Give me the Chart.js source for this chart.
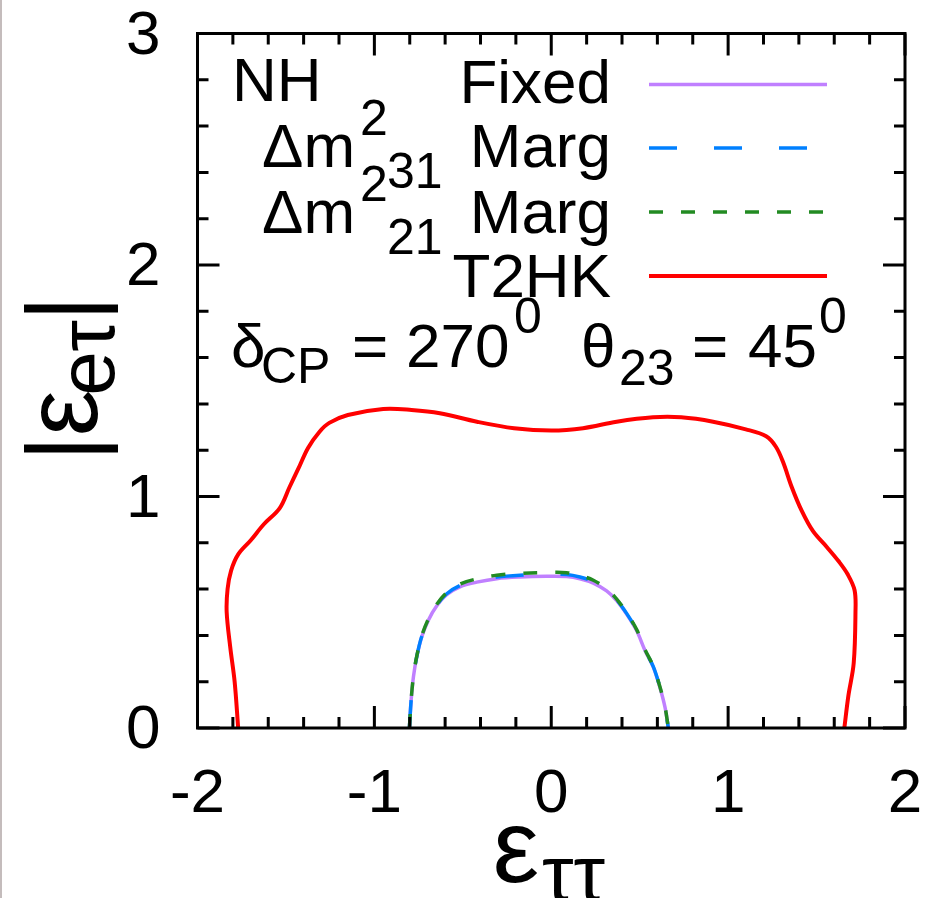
<!DOCTYPE html>
<html>
<head>
<meta charset="utf-8">
<script src="https://cdn.jsdelivr.net/npm/chart.js@4.4.1/dist/chart.umd.min.js"></script>
<style>
  html, body { margin: 0; padding: 0; background: #fff; }
  canvas { display: block; }
</style>
</head>
<body>
<canvas id="c" width="933" height="898"></canvas>
<script>
// axis ticks
const xTicks = [-2, -1, 0, 1, 2]
const yTicks = [0, 1, 2, 3]
const minorStep = 0.2

// T2HK contour (red)
const t2hkX = [-1.77, -1.79, -1.815, -1.835, -1.83, -1.81, -1.77, -1.70, -1.625, -1.535, -1.48, -1.43, -1.375, -1.31, -1.255, -1.15, -0.95, -0.79, -0.63, -0.42, -0.21, 0, 0.18, 0.37, 0.575, 0.735, 0.915, 1.10, 1.215, 1.27, 1.31, 1.36, 1.415, 1.48, 1.56, 1.625, 1.675, 1.715, 1.72, 1.71, 1.68, 1.657]
const t2hkY = [0, 0.2, 0.35, 0.5, 0.6, 0.68, 0.75, 0.81, 0.88, 0.95, 1.04, 1.12, 1.21, 1.28, 1.318, 1.352, 1.378, 1.374, 1.36, 1.323, 1.295, 1.285, 1.295, 1.323, 1.342, 1.342, 1.323, 1.29, 1.26, 1.215, 1.15, 1.04, 0.94, 0.85, 0.78, 0.72, 0.665, 0.595, 0.5, 0.28, 0.14, 0]

// inner contours
const innerX = [-0.802, -0.792, -0.779, -0.760, -0.732, -0.694, -0.647, -0.591, -0.516, -0.421, -0.308, -0.177, -0.026, 0.087, 0.162, 0.238, 0.313, 0.370, 0.426, 0.483, 0.530, 0.577, 0.614, 0.643, 0.662]
const fixedY = [0, 0.121, 0.222, 0.308, 0.394, 0.467, 0.528, 0.576, 0.610, 0.630, 0.645, 0.652, 0.655, 0.654, 0.645, 0.626, 0.592, 0.550, 0.492, 0.420, 0.335, 0.263, 0.176, 0.090, 0]
const marg31Y = [0, 0.121, 0.222, 0.310, 0.396, 0.469, 0.531, 0.580, 0.616, 0.637, 0.652, 0.660, 0.664, 0.663, 0.652, 0.632, 0.597, 0.554, 0.495, 0.423, 0.337, 0.265, 0.178, 0.091, 0]
const marg21Y = [0, 0.122, 0.224, 0.312, 0.398, 0.472, 0.535, 0.585, 0.622, 0.644, 0.660, 0.668, 0.672, 0.671, 0.659, 0.638, 0.601, 0.557, 0.498, 0.425, 0.339, 0.266, 0.179, 0.092, 0]

const FONT = '"Liberation Sans", Arial, sans-serif'
const pts = (xs, ys) => xs.map((x, i) => ({x: x, y: ys[i]}))

const series = [
  {label: 'T2HK', x: t2hkX, y: t2hkY, color: '#ff0000', width: 4, dash: [], order: 4},
  {label: 'Fixed', x: innerX, y: fixedY, color: '#c080ff', width: 3.5, dash: [], order: 3},
  {label: 'Δm231 Marg', x: innerX, y: marg31Y, color: '#0080ff', width: 3.5, dash: [28, 37], order: 2},
  {label: 'Δm221 Marg', x: innerX, y: marg21Y, color: '#228b22', width: 3.5, dash: [14, 18], order: 1}
]

function txt(ctx, s, x, y, size, align) {
  ctx.font = size + 'px ' + FONT
  ctx.textAlign = align || 'left'
  ctx.fillText(s, x, y)
}

const frame = {
  id: 'frame',
  beforeDraw(chart) {
    const ctx = chart.ctx
    ctx.save()
    ctx.fillStyle = '#fff'
    ctx.fillRect(0, 0, chart.width, chart.height)
    ctx.fillStyle = '#c4bcbc'
    ctx.fillRect(0, 0, 2, chart.height)
    ctx.restore()
  },
  afterDatasetsDraw(chart) {
    const ctx = chart.ctx
    const {left, right, top, bottom} = chart.chartArea
    const xs = chart.scales.x, ys = chart.scales.y
    ctx.save()
    ctx.strokeStyle = '#000'
    ctx.lineWidth = 3
    ctx.lineCap = 'butt'

    const nx = Math.round((xs.max - xs.min) / minorStep)
    for (let i = 0; i <= nx; i++) {
      const v = xs.min + i * minorStep
      const major = Math.abs(v - Math.round(v)) < 1e-6
      const len = major ? 22 : 11
      const px = xs.getPixelForValue(v)
      ctx.beginPath()
      ctx.moveTo(px, bottom); ctx.lineTo(px, bottom - len)
      ctx.moveTo(px, top); ctx.lineTo(px, top + len)
      ctx.stroke()
    }
    const ny = Math.round((ys.max - ys.min) / minorStep)
    for (let i = 0; i <= ny; i++) {
      const v = ys.min + i * minorStep
      const major = Math.abs(v - Math.round(v)) < 1e-6
      const len = major ? 22 : 11
      const py = ys.getPixelForValue(v)
      ctx.beginPath()
      ctx.moveTo(left, py); ctx.lineTo(left + len, py)
      ctx.moveTo(right, py); ctx.lineTo(right - len, py)
      ctx.stroke()
    }
    ctx.strokeRect(left, top, right - left, bottom - top)

    // tick labels
    ctx.fillStyle = '#000'
    ctx.textBaseline = 'alphabetic'
    xTicks.forEach(v => txt(ctx, String(v), xs.getPixelForValue(v), bottom + 84, 62, 'center'))
    yTicks.forEach(v => txt(ctx, String(v), left - 37, ys.getPixelForValue(v) + 20, 62, 'right'))

    // axis titles
    txt(ctx, 'ε', 516, 882, 104, 'center')
    txt(ctx, 'ττ', 542, 901, 80, 'left')

    ctx.save()
    ctx.translate(97, 452)
    ctx.rotate(-Math.PI / 2)
    txt(ctx, '|', 3.5, 0, 100, 'center')
    txt(ctx, 'ε', 39, 0, 104, 'center')
    txt(ctx, 'e', 78.5, 17, 80, 'center')
    txt(ctx, 'τ', 116, 17, 80, 'center')
    txt(ctx, '|', 143.5, 0, 100, 'center')
    ctx.restore()

    // key
    txt(ctx, 'NH', 232, 101, 62)
    txt(ctx, 'Fixed', 611, 103, 62, 'right')
    txt(ctx, 'Marg', 611, 167, 62, 'right')
    txt(ctx, 'Marg', 611, 233, 62, 'right')
    txt(ctx, 'T2HK', 611, 297, 62, 'right')
    ;[[167, '31'], [233, '21']].forEach(([b, sub]) => {
      txt(ctx, 'Δm', 262, b, 62)
      txt(ctx, '2', 360, b - 32, 50)
      txt(ctx, sub, 387, b + 21, 50)
    })
    const keyY = [276, 84.5, 148, 212]
    series.forEach((s, i) => {
      ctx.beginPath()
      ctx.strokeStyle = s.color
      ctx.lineWidth = s.width
      ctx.setLineDash(s.dash)
      ctx.moveTo(649, keyY[i]); ctx.lineTo(827, keyY[i])
      ctx.stroke()
    })
    ctx.setLineDash([])

    // parameters line
    txt(ctx, 'δ', 231, 367, 62)
    txt(ctx, 'CP', 261, 383, 50)
    txt(ctx, '=', 352, 367, 62)
    txt(ctx, '270', 406, 367, 62)
    txt(ctx, '0', 514, 333, 50)
    txt(ctx, 'θ', 581, 367, 62)
    txt(ctx, '23', 619, 385, 50)
    txt(ctx, '=', 692, 367, 62)
    txt(ctx, '45', 748, 367, 62)
    txt(ctx, '0', 819, 333, 50)
    ctx.restore()
  }
}

new Chart(document.getElementById('c'), {
  type: 'scatter',
  data: {
    datasets: series.map(s => ({
      label: s.label,
      data: pts(s.x, s.y),
      showLine: true,
      borderColor: s.color,
      borderWidth: s.width,
      borderDash: s.dash,
      pointRadius: 0,
      tension: 0.35,
      fill: false,
      order: s.order
    }))
  },
  options: {
    responsive: false,
    animation: false,
    events: [],
    layout: {padding: {left: 197.5, top: 33.5, right: 28, bottom: 170}},
    scales: {
      x: {type: 'linear', min: -2, max: 2, display: false},
      y: {type: 'linear', min: 0, max: 3, display: false}
    },
    plugins: {legend: {display: false}, tooltip: {enabled: false}}
  },
  plugins: [frame]
})
</script>
</body>
</html>
